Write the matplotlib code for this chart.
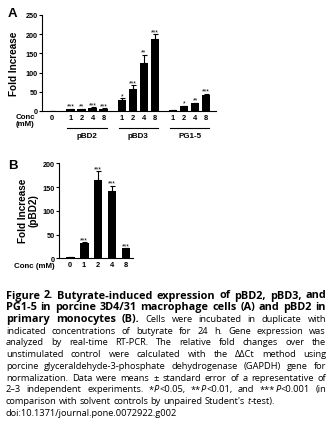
import matplotlib
matplotlib.use("Agg")
import matplotlib.pyplot as plt
import numpy as np

# ---- data ----
conc = ['1', '2', '4', '8']
groups_a = ['pBD2', 'pBD3', 'PG1-5']
control_a = 1.0
control_a_err = 0.3
pbd2_a = [5, 5, 9, 6]
pbd2_a_err = [1, 1, 1.5, 1]
pbd2_a_sig = ['***', '**', '***', '***']
pbd3_a = [28, 58, 124, 187]
pbd3_a_err = [6, 9, 23, 14]
pbd3_a_sig = ['*', '***', '**', '***']
pg15_a = [2, 12, 20, 42]
pg15_a_err = [0.5, 2, 2, 3]
pg15_a_sig = ['', '*', '**', '***']

conc_b = ['0', '1', '2', '4', '8']
pbd2_b = [2, 33, 165, 142, 21]
pbd2_b_err = [0.3, 1, 19, 11, 1]
pbd2_b_sig = ['', '***', '***', '***', '***']

W, H = 332, 427
fig = plt.figure(figsize=(W / 100, H / 100), dpi=100)
chart_font = ['Liberation Sans', 'DejaVu Sans']
plt.rcParams['font.family'] = chart_font


def px(x, y):
    # pixel (from top-left) -> figure fraction
    return x / W, 1 - y / H


def style_axes(ax, yticks):
    for s in ['top', 'right']:
        ax.spines[s].set_visible(False)
    for s in ['left', 'bottom']:
        ax.spines[s].set_linewidth(0.8)
    ax.set_yticks(yticks)
    ax.tick_params(axis='y', length=2.2, width=0.8, pad=0.8, labelsize=5.2)
    ax.tick_params(axis='x', length=0, pad=2.2, labelsize=5.4)
    for lab in ax.get_yticklabels() + ax.get_xticklabels():
        lab.set_fontweight('bold')


def draw_bars(ax, xs, vals, errs, sigs, width):
    ax.bar(xs, vals, width=width, color='black', zorder=2)
    ax.errorbar(xs, vals, yerr=[np.zeros(len(vals)), errs], fmt='none',
                ecolor='black', elinewidth=0.8, capsize=1.8, capthick=0.8, zorder=3)
    for x, v, e, s in zip(xs, vals, errs, sigs):
        if s:
            ax.annotate(s, (x, v + e), xytext=(0, 0.6), textcoords='offset points',
                        ha='center', va='baseline', fontsize=4.8)


# ---- panel A ----
axA = fig.add_axes([42 / W, 1 - 112 / H, 174 / W, 96 / H])
bw = 0.78
starts = [1.7 + g * 4.65 for g in range(3)]
series = [(pbd2_a, pbd2_a_err, pbd2_a_sig), (pbd3_a, pbd3_a_err, pbd3_a_sig),
          (pg15_a, pg15_a_err, pg15_a_sig)]
draw_bars(axA, [0], [control_a], [control_a_err], [''], bw)
xt, xl = [0], ['0']
for st, (v, e, s) in zip(starts, series):
    xs = [st + i for i in range(len(conc))]
    draw_bars(axA, xs, v, e, s, bw)
    xt += xs
    xl += conc
axA.set_xlim(-0.9, 14.9)
axA.set_ylim(0, 250)
axA.set_xticks(xt, xl)
style_axes(axA, range(0, 251, 50))
trans = axA.get_xaxis_transform()
for st, g in zip(starts, groups_a):
    axA.plot([st - 0.3, st + 3.3], [-0.177, -0.177], transform=trans, color='black',
             lw=0.8, clip_on=False)
    axA.text(st + 1.5, -0.255, g, transform=trans, ha='center', va='center',
             fontsize=5.8, fontweight='bold')

fig.text(*px(12, 14), 'A', fontsize=9.5, fontweight='bold', ha='center', va='center')
fig.text(*px(14, 64), 'Fold Increase', rotation=90, fontsize=7.2, fontweight='bold',
         ha='center', va='center')
fig.text(*px(25, 117.5), 'Conc', fontsize=5.7, fontweight='bold', ha='center', va='center')
fig.text(*px(25, 124.5), '(mM)', fontsize=5.7, fontweight='bold', ha='center', va='center')

# ---- panel B ----
axB = fig.add_axes([58.7 / W, 1 - 259.3 / H, 74.3 / W, 95 / H])
xb = np.arange(len(conc_b))
draw_bars(axB, xb, pbd2_b, pbd2_b_err, pbd2_b_sig, 0.64)
axB.set_xlim(-0.81, 4.5)
axB.set_ylim(0, 200)
axB.set_xticks(xb, conc_b)
style_axes(axB, range(0, 201, 50))

fig.text(*px(13, 166), 'B', fontsize=9.5, fontweight='bold', ha='center', va='center')
fig.text(*px(22.5, 211), 'Fold Increase', rotation=90, fontsize=7.2, fontweight='bold',
         ha='center', va='center')
fig.text(*px(33.5, 211), '(pBD2)', rotation=90, fontsize=7.2, fontweight='bold',
         ha='center', va='center')
fig.text(*px(34.5, 266.5), 'Conc (mM)', fontsize=5.7, fontweight='bold', ha='center',
         va='center')

# ---- caption (justified) ----
caption = [
    ([("Figure 2. Butyrate-induced expression of pBD2, pBD3, and", 'b')], True),
    ([("PG1-5 in porcine 3D4/31 macrophage cells (A) and pBD2 in", 'b')], True),
    ([("primary monocytes (B).", 'b'), (" Cells were incubated in duplicate with", 'r')], True),
    ([("indicated concentrations of butyrate for 24 h. Gene expression was", 'r')], True),
    ([("analyzed by real-time RT-PCR. The relative fold changes over the", 'r')], True),
    ([("unstimulated control were calculated with the \u0394\u0394Ct method using", 'r')], True),
    ([("porcine glyceraldehyde-3-phosphate dehydrogenase (GAPDH) gene for", 'r')], True),
    ([("normalization. Data were means \u00b1 standard error of a representative of", 'r')], True),
    ([("2\u20133 independent experiments. *", 'r'), ("P", 'i'), ("<0.05, **", 'r'), ("P", 'i'),
      ("<0.01, and ***", 'r'), ("P", 'i'), ("<0.001 (in", 'r')], True),
    ([("comparison with solvent controls by unpaired Student's ", 'r'), ("t", 'i'),
      ("-test).", 'r')], False),
    ([("doi:10.1371/journal.pone.0072922.g002", 'r')], False),
]
cap_font = ['Open Sans', 'DejaVu Sans']
cap_size = {'r': 6.7, 'i': 6.7, 'b': 7.8}
styles = {'r': dict(), 'b': dict(fontweight='bold'), 'i': dict(fontstyle='italic')}
renderer = fig.canvas.get_renderer()


def tw(s, st):
    t = fig.text(0, 0, s, fontsize=cap_size[st], family=cap_font, **styles[st])
    w = t.get_window_extent(renderer=renderer).width
    t.remove()
    return w


space_w = tw('a a', 'r') - tw('aa', 'r')
x_left, x_right = 6, 326
y0, dy = 298.5, 11.75
for li, (segs, justify) in enumerate(caption):
    words = [[]]
    for text, st in segs:
        parts = text.split(' ')
        for k, p in enumerate(parts):
            if k > 0:
                words.append([])
            if p:
                words[-1].append((p, st))
    words = [w for w in words if w]
    widths = [[tw(p, st) for p, st in w] for w in words]
    total = sum(sum(w) for w in widths)
    gap = space_w
    if justify and len(words) > 1:
        gap = (x_right - x_left - total) / (len(words) - 1)
    x = x_left
    y = y0 + li * dy
    for w, ws in zip(words, widths):
        for (p, st), wi in zip(w, ws):
            fig.text(x / W, 1 - y / H, p, fontsize=cap_size[st], family=cap_font,
                     ha='left', va='baseline', **styles[st])
            x += wi
        x += gap

fig.savefig('out.png', dpi=100)
